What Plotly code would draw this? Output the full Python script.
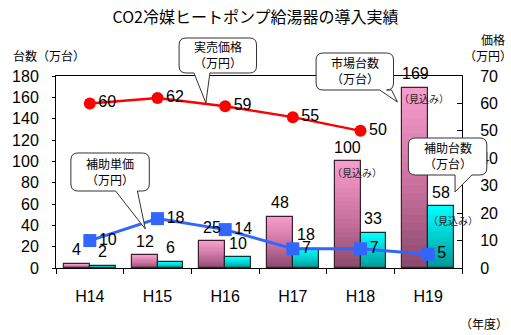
import plotly.graph_objects as go

# ---- data ----
years = ["H14", "H15", "H16", "H17", "H18", "H19"]
market_units = [4, 12, 25, 48, 100, 169]        # 市場台数 (万台)
subsidy_units = [2, 6, 10, 18, 33, 58]          # 補助台数 (万台)
retail_price = [60, 62, 59, 55, 50]             # 実売価格 (万円), H14-H18
subsidy_price = [10, 18, 14, 7, 7, 5]           # 補助単価 (万円)
estimate_years = ["H18", "H19"]                 # market count is an estimate
estimate_subsidy_years = ["H19"]

left_ticks = list(range(0, 181, 20))
right_ticks = list(range(0, 71, 10))

JP = "Noto Sans CJK JP"
NUM = "Liberation Sans, Arial, sans-serif"

W, H = 511, 335
L, R, T, B = 53, 49, 76, 67
PW, PH = W - L - R, H - T - B

BAR_W = 0.38
BAR_PX = BAR_W * PW / 6          # bar width in pixels
N_SEG = 24


def lerp(c1, c2, t):
    return "rgb(%d,%d,%d)" % tuple(round(a + (b - a) * t) for a, b in zip(c1, c2))


def gradient(stops, t):
    # stops: list of (pos, rgb) with pos from bottom(0) to top(1)
    for (p0, c0), (p1, c1) in zip(stops, stops[1:]):
        if p0 <= t <= p1:
            return lerp(c0, c1, (t - p0) / (p1 - p0))
    return lerp(stops[-1][1], stops[-1][1], 0)


pink_stops = [(0.0, (138, 74, 108)), (0.45, (200, 112, 157)), (1.0, (248, 158, 204))]
cyan_stops = [(0.0, (0, 150, 150)), (0.5, (0, 205, 205)), (1.0, (0, 255, 255))]

fig = go.Figure()


def add_gradient_bars(values, offset, stops, outline):
    for k in range(N_SEG):
        t = (k + 0.5) / N_SEG
        fig.add_trace(go.Bar(
            x=years, y=[v / N_SEG for v in values], base=[v * k / N_SEG for v in values],
            width=BAR_W, offset=offset,
            marker=dict(color=gradient(stops, t), line=dict(width=0)),
            hoverinfo="skip", showlegend=False,
        ))
    fig.add_trace(go.Bar(
        x=years, y=values, width=BAR_W, offset=offset,
        marker=dict(color="rgba(0,0,0,0)", line=dict(color=outline, width=1.2)),
        showlegend=False,
    ))


add_gradient_bars(market_units, -BAR_W, pink_stops, "#3a2030")
add_gradient_bars(subsidy_units, 0, cyan_stops, "#103030")

# price lines on the right axis
fig.add_trace(go.Scatter(
    x=years[:len(retail_price)], y=retail_price, yaxis="y2",
    mode="lines+markers+text", text=[str(v) for v in retail_price],
    textposition="middle right", textfont=dict(family=NUM, size=16, color="#000"),
    line=dict(color="#ff0000", width=2.5),
    marker=dict(symbol="circle", size=12, color="#ff0000"),
    cliponaxis=False, showlegend=False,
))
fig.add_trace(go.Scatter(
    x=years, y=subsidy_price, yaxis="y2",
    mode="lines+markers+text", text=[str(v) for v in subsidy_price],
    textposition="middle right", textfont=dict(family=NUM, size=16, color="#000"),
    line=dict(color="#3366ff", width=3),
    marker=dict(symbol="square", size=13, color="#3366ff"),
    cliponaxis=False, showlegend=False,
))

annotations = []
# value labels above bars
for yr, v in zip(years, market_units):
    annotations.append(dict(x=yr, y=v, xref="x", yref="y", text=str(v), showarrow=False,
                            xshift=-BAR_PX / 2, yshift=14, yanchor="middle",
                            font=dict(family=NUM, size=16, color="#000")))
for yr, v in zip(years, subsidy_units):
    annotations.append(dict(x=yr, y=v, xref="x", yref="y", text=str(v), showarrow=False,
                            xshift=BAR_PX / 2, yshift=14, yanchor="middle",
                            font=dict(family=NUM, size=16, color="#000")))
# estimate notes inside the bar tops
for yr in estimate_years:
    v = market_units[years.index(yr)]
    annotations.append(dict(x=yr, y=v, xref="x", yref="y", text="（見込み）", showarrow=False,
                            xshift=-BAR_PX / 2 + 9, yshift=-11, yanchor="middle",
                            font=dict(family=JP, size=10, color="#222")))
for yr in estimate_subsidy_years:
    v = subsidy_units[years.index(yr)]
    annotations.append(dict(x=yr, y=v, xref="x", yref="y", text="（見込み）", showarrow=False,
                            xshift=BAR_PX / 2 + 12, yshift=-14, yanchor="middle",
                            font=dict(family=JP, size=10, color="#222")))


def px(xp, yp):
    return (xp - L) / PW, (H - B - yp) / PH


def bubble(x0, y0, x1, y1, base_a, base_b, tip):
    r = 7

    def P(x, y):
        a, b = px(x, y)
        return f"{a:.5f},{b:.5f}"

    d = f"M {P(x0 + r, y0)} L {P(x1 - r, y0)} Q {P(x1, y0)} {P(x1, y0 + r)} "
    d += f"L {P(x1, y1 - r)} Q {P(x1, y1)} {P(x1 - r, y1)} "
    d += f"L {P(base_b, y1)} L {P(*tip)} L {P(base_a, y1)} "
    d += f"L {P(x0 + r, y1)} Q {P(x0, y1)} {P(x0, y1 - r)} "
    d += f"L {P(x0, y0 + r)} Q {P(x0, y0)} {P(x0 + r, y0)} Z"
    return dict(type="path", xref="paper", yref="paper", path=d, layer="above",
                fillcolor="#ffffff", line=dict(color="#333333", width=1))


callouts = [
    ("実売価格<br>（万円）", (177, 38, 255, 73), (192, 208), (204, 103)),
    ("市場台数<br>（万台）", (315, 53, 393, 90), (379, 391), (397, 102)),
    ("補助単価<br>（万円）", (68, 153, 147, 191), (113, 135), (143, 229)),
    ("補助台数<br>（万台）", (408, 138, 487, 175), (455, 472), (455, 192)),
]
shapes = []
for text, (x0, y0, x1, y1), (ba, bb), tip in callouts:
    shapes.append(bubble(x0, y0, x1, y1, ba, bb, tip))
    cx, cy = px((x0 + x1) / 2, (y0 + y1) / 2 - 1)
    annotations.append(dict(x=cx, y=cy, xref="paper", yref="paper", text=text, showarrow=False,
                            xanchor="center", yanchor="middle", borderpad=0,
                            font=dict(family=JP, size=12, color="#000")))


# axis captions
def cap(text, xp, yp, xa="left", size=12):
    x, y = px(xp, yp)
    annotations.append(dict(x=x, y=y, xref="paper", yref="paper", text=text, showarrow=False,
                            xanchor=xa, yanchor="middle", font=dict(family=JP, size=size, color="#000")))


cap("台数（万台）", 8, 55)
cap("価格", 493, 39, xa="center")
cap("（万円）", 488, 55, xa="center")
cap("（年度）", 510, 323, xa="right")

fig.update_layout(
    width=W, height=H,
    margin=dict(l=L, r=R, t=T, b=B),
    paper_bgcolor="#ffffff", plot_bgcolor="#ffffff",
    barmode="overlay", bargap=0,
    showlegend=False,
    title=dict(text="CO2冷媒ヒートポンプ給湯器の導入実績", x=0.5, xref="container",
               y=1 - 17 / H, yref="container", xanchor="center", yanchor="middle",
               font=dict(family=JP, size=16, color="#000")),
    xaxis=dict(type="category", range=[-0.5, 5.5], tickson="boundaries",
               ticks="outside", ticklen=5, tickcolor="#000",
               showline=True, linecolor="#000", linewidth=1, mirror=True,
               showgrid=False, ticklabelstandoff=14,
               tickfont=dict(family=NUM, size=16, color="#000")),
    yaxis=dict(range=[0, 180], tickvals=left_ticks, ticks="outside", ticklen=3,
               tickcolor="#000", showline=True, linecolor="#000", linewidth=1,
               showgrid=False, zeroline=False, ticklabelstandoff=10,
               tickfont=dict(family=NUM, size=16, color="#000")),
    yaxis2=dict(range=[0, 70], tickvals=right_ticks, overlaying="y", side="right",
                ticks="inside", ticklen=5, tickcolor="#000", showline=True,
                linecolor="#000", linewidth=1, showgrid=False, zeroline=False,
                ticklabelstandoff=14,
                tickfont=dict(family=NUM, size=16, color="#000")),
    annotations=annotations,
    shapes=shapes,
)

fig.write_html("out.html")
